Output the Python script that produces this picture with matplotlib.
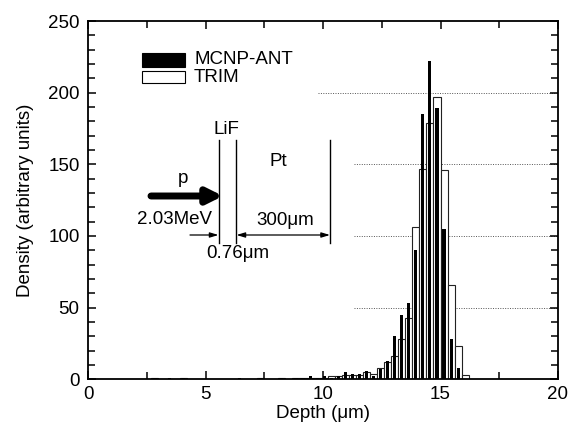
import matplotlib
matplotlib.use('Agg')
import matplotlib.pyplot as plt
from matplotlib.ticker import MultipleLocator
from matplotlib.patches import Rectangle

plt.rcParams['font.family'] = ['Liberation Sans', 'DejaVu Sans']

# bin centres (um), bin width 0.3 um
depth = [2.85, 3.45, 4.05, 6.45, 7.35, 8.25, 8.85, 9.15, 9.45, 9.75, 10.05,
         10.35, 10.65, 10.95, 11.25, 11.55, 11.85, 12.15, 12.45, 12.75, 13.05,
         13.35, 13.65, 13.95, 14.25, 14.55, 14.85, 15.15, 15.45, 15.75, 16.05]
mcnp = [1, 1, 1, 1, 1, 1, 1, 1, 2, 1, 2,
        1, 2, 5, 4, 3.5, 6, 2, 7, 12.5, 30,
        45, 53, 90, 185, 222, 189, 105, 28, 8, 0]
trim = [1, 0, 1, 0, 1, 1, 1, 1, 1, 1, 1,
        2, 2, 3, 3, 3, 5, 4, 7.7, 12, 16.6,
        28, 43, 106, 147, 179, 197, 146, 66, 23, 3]

grid_levels = [50, 100, 150, 200]
grid_start = [11.3, 11.3, 11.3, 9.8]

FS = 13.5

fig = plt.figure(figsize=(5.79, 4.29), dpi=100)
ax = fig.add_axes([88/579, 1-379.3/429, (558-88)/579, (379.3-21)/429])

for lvl, xs in zip(grid_levels, grid_start):
    ax.hlines(lvl, xs, 20, colors='#555555', linestyles=(0, (1, 1.5)), linewidth=0.7, zorder=1)

ax.bar(depth, trim, width=0.3, facecolor='white', edgecolor='#222222', linewidth=0.8, zorder=2)
ax.bar(depth, mcnp, width=0.13, color='black', linewidth=0, zorder=3)

ax.set_xlim(0, 20)
ax.set_ylim(0, 250)
ax.xaxis.set_major_locator(MultipleLocator(5))
ax.xaxis.set_minor_locator(MultipleLocator(2.5))
ax.yaxis.set_major_locator(MultipleLocator(50))
ax.yaxis.set_minor_locator(MultipleLocator(10))
ax.tick_params(which='both', direction='in', top=True, right=True, labelsize=FS, width=1.1)
ax.tick_params(axis='x', which='both', pad=5)
ax.tick_params(axis='y', which='both', pad=6)
ax.tick_params(which='major', length=6)
ax.tick_params(which='minor', length=5)
for s in ax.spines.values():
    s.set_linewidth(1.3)

ax.set_xlabel('Depth (μm)', fontsize=FS, labelpad=1)
ax.set_ylabel('Density (arbitrary units)', fontsize=FS, labelpad=10)

def px2ax(x, y):
    return ((x-88)/(558-88), (379.3-y)/(379.3-21))

T = ax.transAxes
# legend
x0, y0 = px2ax(142, 66.7)
x1, y1 = px2ax(185, 53.3)
ax.add_patch(Rectangle((x0, y0), x1-x0, y1-y0, transform=T, facecolor='black', edgecolor='black', lw=0.8, zorder=5))
x0, y0 = px2ax(142, 83.3)
x1, y1 = px2ax(185, 70.7)
ax.add_patch(Rectangle((x0, y0), x1-x0, y1-y0, transform=T, facecolor='white', edgecolor='black', lw=0.8, zorder=5))
ax.text(*px2ax(194, 60), 'MCNP-ANT', transform=T, fontsize=FS, va='center', ha='left')
ax.text(*px2ax(194, 77), 'TRIM', transform=T, fontsize=FS, va='center', ha='left')

# schematic
for xp in [219, 235.7, 330]:
    a, b = px2ax(xp, 140)
    c, d = px2ax(xp, 243)
    ax.plot([a, c], [b, d], color='black', lw=1.0, transform=T)
ax.text(*px2ax(226.7, 130), 'LiF', transform=T, fontsize=FS, ha='center', va='center')
ax.text(*px2ax(278, 161.7), 'Pt', transform=T, fontsize=FS, ha='center', va='center')
ax.text(*px2ax(183, 178), 'p', transform=T, fontsize=FS, ha='center', va='center')
ax.text(*px2ax(175, 219), '2.03MeV', transform=T, fontsize=FS, ha='center', va='center')
ax.text(*px2ax(285, 220.5), '300μm', transform=T, fontsize=FS, ha='center', va='center')
ax.text(*px2ax(238, 254), '0.76μm', transform=T, fontsize=FS, ha='center', va='center')
ax.annotate('', xy=px2ax(223, 196), xytext=px2ax(151, 196), xycoords=T, textcoords=T,
            arrowprops=dict(arrowstyle='-|>,head_length=0.9,head_width=0.45', lw=5, color='black',
                            shrinkA=0, shrinkB=0))
ax.annotate('', xy=px2ax(218.5, 235), xytext=px2ax(190, 235), xycoords=T, textcoords=T,
            arrowprops=dict(arrowstyle='-|>,head_length=0.5,head_width=0.15', lw=0.9, color='black',
                            shrinkA=0, shrinkB=0))
ax.annotate('', xy=px2ax(330, 235), xytext=px2ax(236.5, 235), xycoords=T, textcoords=T,
            arrowprops=dict(arrowstyle='<|-|>,head_length=0.5,head_width=0.15', lw=0.9, color='black',
                            shrinkA=0, shrinkB=0))

fig.savefig('out.png', dpi=100)
